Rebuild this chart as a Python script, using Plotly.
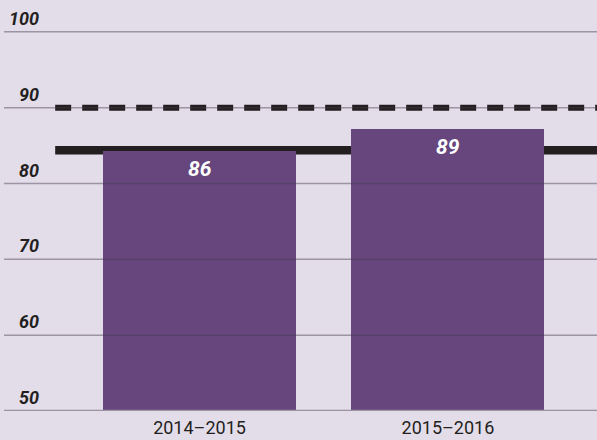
import plotly.graph_objects as go

categories = ["2014–2015", "2015–2016"]
bar_values = [84.3, 87.2]
bar_labels = ["86", "89"]
solid_ref = 84.4
dashed_ref = 90
y_ticks = [50, 60, 70, 80, 90, 100]

BG = "#e3dde9"
BAR = "#66467c"
FONT = "Roboto, Arial, sans-serif"

xs = list(range(len(categories)))
x_left, x_right = -0.787, 1.6
line_start = -0.581

fig = go.Figure()
fig.add_trace(go.Scatter(x=[line_start, x_right], y=[dashed_ref, dashed_ref], mode="lines",
                         line=dict(color="#231f20", width=6, dash="16px,11px"), hoverinfo="skip"))
fig.add_trace(go.Bar(x=xs, y=[v - y_ticks[0] for v in bar_values], base=y_ticks[0],
                     width=0.777, marker=dict(color=BAR, line=dict(width=0)), hoverinfo="skip"))

shapes = [dict(type="line", xref="x", x0=line_start, x1=x_right, yref="y", y0=solid_ref, y1=solid_ref,
               layer="below", line=dict(color="#231f20", width=8.5))]
for t in y_ticks[1:]:
    shapes.append(dict(type="line", xref="paper", x0=0, x1=1, yref="y", y0=t, y1=t,
                       layer="above", line=dict(color="rgba(70,60,80,0.45)", width=1.5)))
shapes.append(dict(type="line", xref="paper", x0=0, x1=1, yref="y", y0=y_ticks[0], y1=y_ticks[0],
                   layer="above", line=dict(color="#9a949f", width=2.5)))
fig.update_layout(shapes=shapes)

annotations = []
for t in y_ticks:
    annotations.append(dict(xref="paper", x=0.063, y=t, yref="y", xanchor="right", yanchor="bottom",
                            text=str(t), showarrow=False, yshift=1,
                            font=dict(family=FONT, size=18, color="#231f20", weight="bold", style="italic")))
for x, v, lab in zip(xs, bar_values, bar_labels):
    annotations.append(dict(x=x, y=v, xref="x", yref="y", yanchor="top", text=lab, showarrow=False,
                            yshift=-4,
                            font=dict(family=FONT, size=21, color="white", weight="bold", style="italic")))
fig.update_layout(annotations=annotations)

fig.update_layout(
    width=597, height=440,
    margin=dict(l=4, r=0, t=0, b=29),
    paper_bgcolor=BG, plot_bgcolor=BG,
    showlegend=False,
    bargap=0,
    xaxis=dict(range=[x_left, x_right], tickvals=xs, ticktext=categories, showgrid=False,
               zeroline=False, showline=False, ticks="", ticklabelstandoff=4,
               tickfont=dict(family=FONT, size=18, color="#231f20")),
    yaxis=dict(range=[50, 104.2], showgrid=False, zeroline=False, showticklabels=False,
               showline=False),
)

fig.write_html("out.html", config={"displayModeBar": False},
               post_script="document.body.style.margin='0';document.body.style.background='%s';" % BG)
